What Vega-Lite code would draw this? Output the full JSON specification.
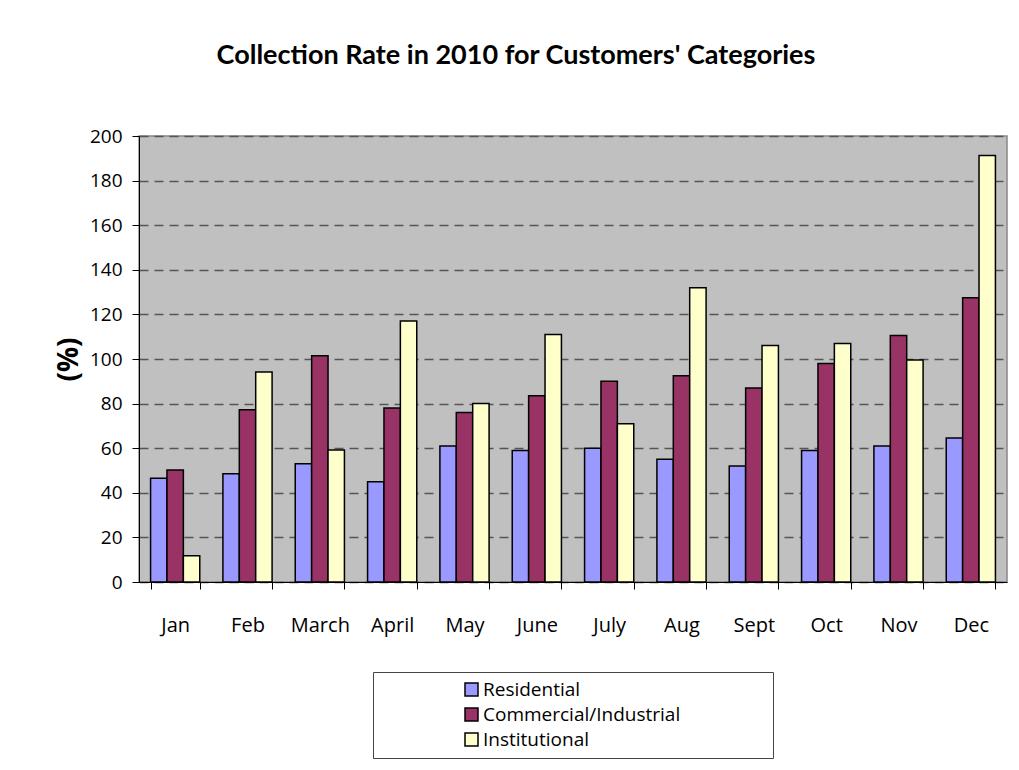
{
  "$schema": "https://vega.github.io/schema/vega-lite/v6.json",
  "autosize": {"type": "none"},
  "width": 868,
  "height": 446,
  "padding": {"left": 139, "top": 136, "right": 12, "bottom": 188},
  "background": "#FFFFFF",
  "title": {
    "text": "Collection Rate in 2010 for Customers' Categories",
    "font": "Lato",
    "fontSize": 27,
    "fontWeight": "bold",
    "color": "#000000",
    "anchor": "middle",
    "dx": -57,
    "offset": 57
  },
  "data": {
    "values": [
      {"month": "Jan", "category": "Residential", "rate": 46.5},
      {"month": "Jan", "category": "Commercial/Industrial", "rate": 50.2},
      {"month": "Jan", "category": "Institutional", "rate": 11.8},
      {"month": "Feb", "category": "Residential", "rate": 48.5},
      {"month": "Feb", "category": "Commercial/Industrial", "rate": 77.2},
      {"month": "Feb", "category": "Institutional", "rate": 94.2},
      {"month": "March", "category": "Residential", "rate": 53},
      {"month": "March", "category": "Commercial/Industrial", "rate": 101.5},
      {"month": "March", "category": "Institutional", "rate": 59.2},
      {"month": "April", "category": "Residential", "rate": 45},
      {"month": "April", "category": "Commercial/Industrial", "rate": 78},
      {"month": "April", "category": "Institutional", "rate": 117},
      {"month": "May", "category": "Residential", "rate": 61},
      {"month": "May", "category": "Commercial/Industrial", "rate": 76},
      {"month": "May", "category": "Institutional", "rate": 80},
      {"month": "June", "category": "Residential", "rate": 59},
      {"month": "June", "category": "Commercial/Industrial", "rate": 83.5},
      {"month": "June", "category": "Institutional", "rate": 111},
      {"month": "July", "category": "Residential", "rate": 60},
      {"month": "July", "category": "Commercial/Industrial", "rate": 90},
      {"month": "July", "category": "Institutional", "rate": 71},
      {"month": "Aug", "category": "Residential", "rate": 55},
      {"month": "Aug", "category": "Commercial/Industrial", "rate": 92.5},
      {"month": "Aug", "category": "Institutional", "rate": 132},
      {"month": "Sept", "category": "Residential", "rate": 52},
      {"month": "Sept", "category": "Commercial/Industrial", "rate": 87},
      {"month": "Sept", "category": "Institutional", "rate": 106},
      {"month": "Oct", "category": "Residential", "rate": 59},
      {"month": "Oct", "category": "Commercial/Industrial", "rate": 98},
      {"month": "Oct", "category": "Institutional", "rate": 107},
      {"month": "Nov", "category": "Residential", "rate": 61},
      {"month": "Nov", "category": "Commercial/Industrial", "rate": 110.5},
      {"month": "Nov", "category": "Institutional", "rate": 99.5},
      {"month": "Dec", "category": "Residential", "rate": 64.6},
      {"month": "Dec", "category": "Commercial/Industrial", "rate": 127.5},
      {"month": "Dec", "category": "Institutional", "rate": 191.2}
    ]
  },
  "mark": {"type": "bar", "stroke": "#000000", "strokeWidth": 1.5},
  "encoding": {
    "x": {
      "field": "month",
      "type": "nominal",
      "sort": ["Jan", "Feb", "March", "April", "May", "June", "July", "Aug", "Sept", "Oct", "Nov", "Dec"],
      "scale": {"paddingInner": 0.32, "paddingOuter": 0.16},
      "axis": {
        "title": null,
        "labelAngle": 0,
        "labelFont": "Open Sans",
        "labelFontSize": 20,
        "labelColor": "#000000",
        "labelPadding": 26,
        "tickBand": "extent",
        "tickSize": 7,
        "tickColor": "#000000",
        "domainColor": "#000000",
        "domainWidth": 1,
        "grid": false
      }
    },
    "xOffset": {
      "field": "category",
      "type": "nominal",
      "sort": ["Residential", "Commercial/Industrial", "Institutional"],
      "scale": {"paddingInner": 0, "paddingOuter": 0}
    },
    "y": {
      "field": "rate",
      "type": "quantitative",
      "scale": {"domain": [0, 200], "nice": false},
      "axis": {
        "title": "(%)",
        "titleFont": "Open Sans",
        "titleFontSize": 28,
        "titleFontWeight": "bold",
        "titleColor": "#000000",
        "titlePadding": 6,
        "values": [0, 20, 40, 60, 80, 100, 120, 140, 160, 180, 200],
        "labelFont": "Open Sans",
        "labelFontSize": 19,
        "labelColor": "#000000",
        "labelPadding": 10,
        "tickSize": 7,
        "tickColor": "#000000",
        "domainColor": "#000000",
        "grid": true,
        "gridColor": "#555555",
        "gridWidth": 1.5,
        "gridDash": [9, 6]
      }
    },
    "color": {
      "field": "category",
      "type": "nominal",
      "sort": ["Residential", "Commercial/Industrial", "Institutional"],
      "scale": {
        "domain": ["Residential", "Commercial/Industrial", "Institutional"],
        "range": ["#9999FF", "#993366", "#FFFFCC"]
      },
      "legend": {
        "orient": "none",
        "legendX": 234,
        "legendY": 536,
        "direction": "vertical",
        "title": "MMMMM",
        "titleOrient": "right",
        "titleOpacity": 0,
        "titleFont": "Open Sans",
        "titleFontSize": 18,
        "titlePadding": 0,
        "padding": 8,
        "strokeColor": "#444444",
        "fillColor": "#FFFFFF",
        "symbolType": "square",
        "symbolSize": 169,
        "symbolStrokeColor": "#000000",
        "symbolStrokeWidth": 1.5,
        "symbolOpacity": 1,
        "symbolOffset": 81,
        "labelOffset": 2,
        "labelLimit": 400,
        "labelFont": "Open Sans",
        "labelFontSize": 19,
        "labelColor": "#000000",
        "rowPadding": 5
      }
    }
  },
  "config": {
    "view": {"fill": "#C0C0C0", "stroke": "#888888", "strokeWidth": 1.5}
  }
}
